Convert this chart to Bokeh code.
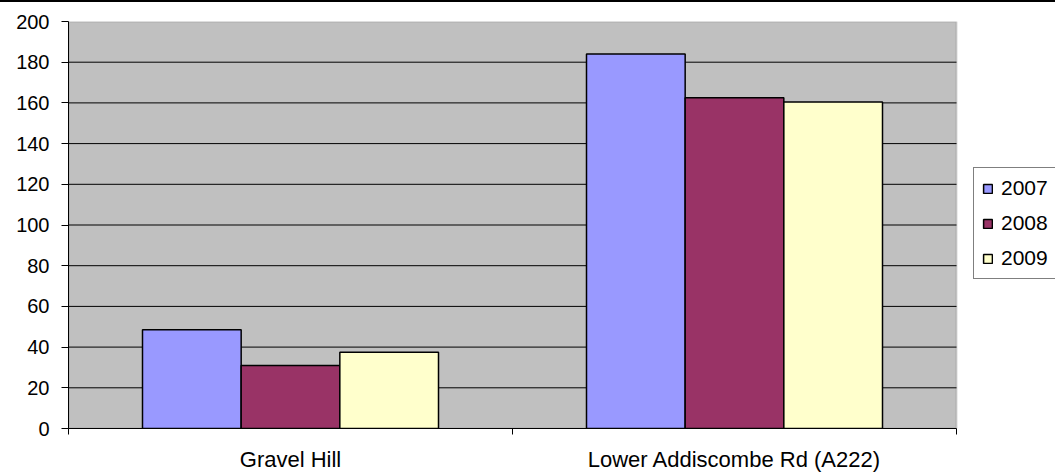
from bokeh.plotting import figure
from bokeh.models import (Range1d, FixedTicker, Legend, LegendItem, ColumnDataSource,
                          BoxAnnotation)
from bokeh.embed import file_html
from bokeh.resources import INLINE

# Site categories and yearly counts
sites = ["Gravel Hill", "Lower Addiscombe Rd (A222)"]
years = ["2007", "2008", "2009"]
values_2007 = [48.5, 184]
values_2008 = [31, 162.5]
values_2009 = [37.5, 160.5]
y_ticks = [0, 20, 40, 60, 80, 100, 120, 140, 160, 180, 200]

colors = ["#9999FF", "#993366", "#FFFFCC"]
series = [values_2007, values_2008, values_2009]

FONT = "Liberation Sans"
Y_MAX = 200
n = len(sites)

# The frame runs to the right edge so the legend can sit beside the plot area;
# the plot area itself covers x in [0, n].
AREA_PX = 888
FRAME_PX = 987
p = figure(width=1055, height=472, output_backend="svg", toolbar_location=None,
           x_range=Range1d(0, n * FRAME_PX / AREA_PX), y_range=Range1d(0, Y_MAX),
           min_border_left=68, min_border_right=0, min_border_top=19,
           min_border_bottom=45)
p.styles = {"border-top": "2px solid black"}

p.background_fill_color = "white"
p.border_fill_color = "white"
p.outline_line_color = None
p.xgrid.grid_line_color = None
p.ygrid.grid_line_color = None

# Grey plot area with its grey border
p.add_layout(BoxAnnotation(left=0, right=n, bottom=0, top=Y_MAX,
                           fill_color="#C0C0C0", fill_alpha=1,
                           line_color="#808080", line_width=2, level="image"))

# Horizontal gridlines limited to the plot area
grid_y = [t for t in y_ticks if 0 < t < Y_MAX]
grid_src = ColumnDataSource(dict(y=grid_y, x0=[0] * len(grid_y), x1=[n] * len(grid_y)))
gl = p.segment(x0="x0", x1="x1", y0="y", y1="y", source=grid_src,
               line_color="black", line_width=1)
gl.level = "underlay"

# Bars: gap width 150% of bar width, three bars per category
bar_w = 1 / 4.5
centers = [i + 0.5 for i in range(n)]
renderers = []
for k, (yr, vals, col) in enumerate(zip(years, series, colors)):
    src = ColumnDataSource(dict(x=[c + (k - 1) * bar_w for c in centers], top=vals))
    r = p.vbar(x="x", top="top", width=bar_w, bottom=0, source=src,
               fill_color=col, line_color="black", line_width=1.5)
    renderers.append(r)

# Axes
p.yaxis.ticker = FixedTicker(ticks=y_ticks)
p.yaxis.major_tick_out = 7
p.yaxis.major_tick_in = 0
p.yaxis.minor_tick_out = 0
p.yaxis.minor_tick_in = 0
p.yaxis.axis_line_color = "black"
p.yaxis.major_label_standoff = 12
p.yaxis.major_label_text_font = FONT
p.yaxis.major_label_text_font_size = "20px"
p.yaxis.major_label_text_color = "black"

p.xaxis.bounds = (0, n)
p.xaxis.ticker = FixedTicker(ticks=centers, minor_ticks=list(range(n + 1)))
p.xaxis.major_label_overrides = {c: s for c, s in zip(centers, sites)}
p.xaxis.major_tick_out = 0
p.xaxis.major_tick_in = 0
p.xaxis.minor_tick_out = 6
p.xaxis.minor_tick_in = 0
p.xaxis.minor_tick_line_color = "black"
p.xaxis.axis_line_color = "black"
p.xaxis.major_label_standoff = 12
p.xaxis.major_label_text_font = FONT
p.xaxis.major_label_text_font_size = "22px"
p.xaxis.major_label_text_color = "black"

# Legend beside the plot area
legend = Legend(items=[LegendItem(label=yr, renderers=[r]) for yr, r in zip(years, renderers)],
                location=(905, 149), orientation="vertical",
                border_line_color="black", border_line_width=1,
                background_fill_color="white", background_fill_alpha=1,
                label_text_font=FONT, label_text_font_size="21px",
                label_text_color="black",
                glyph_width=11, glyph_height=11, label_standoff=8,
                label_height=20, spacing=11, padding=8, margin=0)
p.add_layout(legend, "center")

open("out.html", "w").write(file_html(p, INLINE))
